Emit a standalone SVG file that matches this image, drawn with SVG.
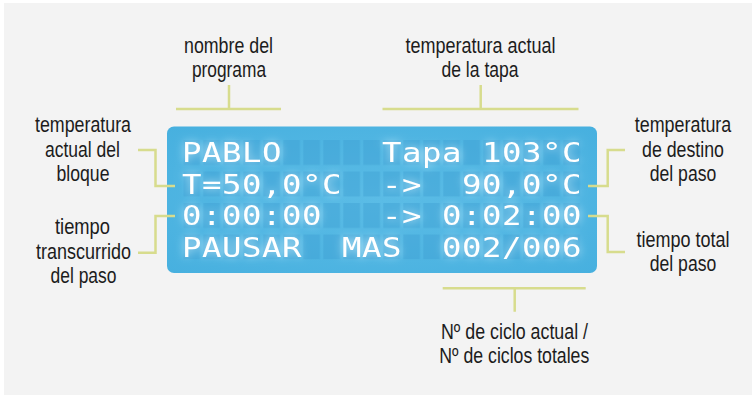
<svg xmlns="http://www.w3.org/2000/svg" width="752" height="395" viewBox="0 0 752 395">
  <style>
    .lbl { font-family: "Liberation Sans", Arial, sans-serif; font-size: 21.5px; fill: #1c1c1c; text-anchor: middle; }
    .lcd { font-family: "DejaVu Sans Mono", "Liberation Mono", monospace; font-size: 27px; fill: #ffffff; text-anchor: middle; }
    .con { fill: none; stroke: #d7dc8d; stroke-width: 2.5; }
  </style>
  <defs>
    <pattern id="cells" x="183.3" y="140" width="20" height="31.5" patternUnits="userSpaceOnUse">
      <rect x="0" y="0" width="16.7" height="25" fill="#3f9fd2" fill-opacity="0.45"/>
    </pattern>
    <radialGradient id="panelGrad" cx="0.5" cy="0.5" r="0.7">
      <stop offset="0" stop-color="#5bbce6"/>
      <stop offset="1" stop-color="#47b0df"/>
    </radialGradient>
    <filter id="glow" x="-10%" y="-40%" width="120%" height="180%">
      <feGaussianBlur in="SourceAlpha" stdDeviation="4" result="b"/>
      <feFlood flood-color="#dcf5ff" flood-opacity="0.85"/>
      <feComposite in2="b" operator="in" result="g"/>
      <feMerge>
        <feMergeNode in="g"/>
        <feMergeNode in="SourceGraphic"/>
      </feMerge>
    </filter>
  </defs>

  <rect id="background" x="0" y="0" width="752" height="395" fill="#ffffff"/>
  <rect x="4" y="3" width="748" height="392" fill="#f3f3f3"/>

  <g id="lcd-panel">
    <rect x="167" y="126.5" width="430" height="146.5" rx="7" fill="url(#panelGrad)"/>
    <rect x="183.3" y="140" width="398" height="119.5" fill="url(#cells)"/>
    <g filter="url(#glow)" transform="scale(1.2,1)">
      <text class="lcd" y="162.5" x="159.75 176.42 193.08 209.75 226.42 326.42 343.08 359.75 376.42 409.75 426.42 443.08 459.75 476.42">PABLOTapa103°C</text>
      <text class="lcd" y="194" x="159.75 176.42 193.08 209.75 226.42 243.08 259.75 276.42 326.42 343.08 393.08 409.75 426.42 443.08 459.75 476.42">T=50,0°C-&gt;90,0°C</text>
      <text class="lcd" y="225.5" x="159.75 176.42 193.08 209.75 226.42 243.08 259.75 326.42 343.08 376.42 393.08 409.75 426.42 443.08 459.75 476.42">0:00:00-&gt;0:02:00</text>
      <text class="lcd" y="257" x="159.75 176.42 193.08 209.75 226.42 243.08 293.08 309.75 326.42 376.42 393.08 409.75 426.42 443.08 459.75 476.42">PAUSARMAS002/006</text>
    </g>
  </g>

  <g id="connectors">
    <path class="con" d="M176,109 H281 M229,85 V109"/>
    <path class="con" d="M382.5,109 H578.5 M480.7,85 V109"/>
    <path class="con" d="M138,150 H155.5 V186 H175"/>
    <path class="con" d="M175,216 H155.5 V252.7 H138"/>
    <path class="con" d="M588,186 H607.7 V150 H625"/>
    <path class="con" d="M588,216 H607.7 V252 H625"/>
    <path class="con" d="M442.7,288.3 H585.7 M514.7,288.3 V311.7"/>
  </g>

  <g id="label-nombre">
    <text class="lbl" x="228.5" y="53" textLength="89" lengthAdjust="spacingAndGlyphs">nombre del</text>
    <text class="lbl" x="229" y="77" textLength="74" lengthAdjust="spacingAndGlyphs">programa</text>
  </g>
  <g id="label-tapa">
    <text class="lbl" x="480.5" y="53" textLength="150" lengthAdjust="spacingAndGlyphs">temperatura actual</text>
    <text class="lbl" x="480" y="77" textLength="77" lengthAdjust="spacingAndGlyphs">de la tapa</text>
  </g>
  <g id="label-bloque">
    <text class="lbl" x="83" y="132" textLength="96" lengthAdjust="spacingAndGlyphs">temperatura</text>
    <text class="lbl" x="82.5" y="156.5" textLength="75" lengthAdjust="spacingAndGlyphs">actual del</text>
    <text class="lbl" x="83" y="181" textLength="53" lengthAdjust="spacingAndGlyphs">bloque</text>
  </g>
  <g id="label-transcurrido">
    <text class="lbl" x="82.5" y="234" textLength="55" lengthAdjust="spacingAndGlyphs">tiempo</text>
    <text class="lbl" x="83.5" y="258.5" textLength="95" lengthAdjust="spacingAndGlyphs">transcurrido</text>
    <text class="lbl" x="83.5" y="283" textLength="66" lengthAdjust="spacingAndGlyphs">del paso</text>
  </g>
  <g id="label-destino">
    <text class="lbl" x="683" y="132" textLength="96.5" lengthAdjust="spacingAndGlyphs">temperatura</text>
    <text class="lbl" x="683" y="156.5" textLength="82" lengthAdjust="spacingAndGlyphs">de destino</text>
    <text class="lbl" x="683" y="181" textLength="66.5" lengthAdjust="spacingAndGlyphs">del paso</text>
  </g>
  <g id="label-total">
    <text class="lbl" x="683" y="246.5" textLength="93" lengthAdjust="spacingAndGlyphs">tiempo total</text>
    <text class="lbl" x="683" y="271" textLength="66.5" lengthAdjust="spacingAndGlyphs">del paso</text>
  </g>
  <g id="label-ciclos">
    <text class="lbl" x="514.5" y="338.5" textLength="147" lengthAdjust="spacingAndGlyphs">Nº de ciclo actual /</text>
    <text class="lbl" x="514.3" y="363" textLength="150" lengthAdjust="spacingAndGlyphs">Nº de ciclos totales</text>
  </g>
</svg>
